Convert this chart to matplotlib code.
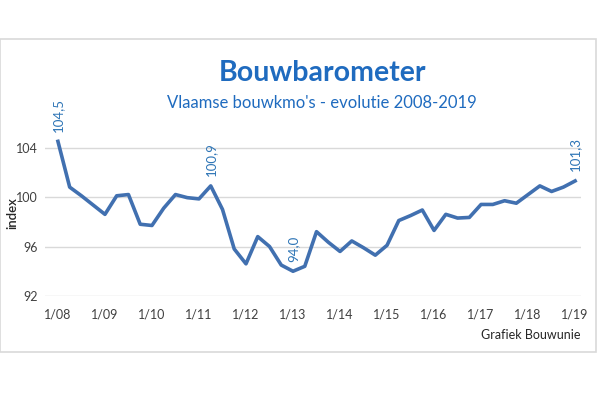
import matplotlib
matplotlib.use("Agg")
import matplotlib.pyplot as plt
from matplotlib.patches import Rectangle

# Quarterly index values, Q1 2008 .. Q1 2019
values = [104.5, 100.8, 100.1, 99.35, 98.6, 100.1, 100.2, 97.8, 97.7, 99.1,
          100.2, 99.95, 99.85, 100.9, 99.0, 95.8, 94.6, 96.8, 96.0, 94.5,
          94.0, 94.4, 97.2, 96.35, 95.6, 96.45, 95.9, 95.3, 96.1, 98.1,
          98.5, 98.95, 97.3, 98.6, 98.3, 98.35, 99.4, 99.4, 99.7, 99.5,
          100.2, 100.9, 100.45, 100.8, 101.3]
tick_labels = ["1/08", "1/09", "1/10", "1/11", "1/12", "1/13", "1/14",
               "1/15", "1/16", "1/17", "1/18", "1/19"]
y_ticks = [92, 96, 100, 104]
labelled_idx = [0, 13, 20, 44]
label_texts = ["104,5", "100,9", "94,0", "101,3"]

plt.rcParams['font.family'] = ['Lato', 'DejaVu Sans']

fig = plt.figure(figsize=(6, 4), dpi=100)
fig.patches.append(Rectangle((0.0, 0.12), 0.9933, 0.7825, transform=fig.transFigure,
                             fill=False, edgecolor='#d9d9d9', linewidth=1.2))

ax = fig.add_axes([0.075, 0.26, 0.8933, 0.433])
x = list(range(len(values)))
ax.plot(x, values, color='#4170B0', linewidth=2.6, solid_joinstyle='round', zorder=3)

ax.set_xlim(-1.1, 44.5)
ax.set_ylim(92, 106)
ax.set_yticks(y_ticks)
ax.set_yticklabels([str(v) for v in y_ticks])
ax.set_xticks(range(0, 45, 4))
ax.set_xticklabels(tick_labels)
ax.tick_params(length=0, labelsize=9, colors='#404040', pad=5)
ax.tick_params(axis='x', pad=9)
ax.grid(axis='y', color='#d9d9d9', linewidth=1)
ax.set_axisbelow(True)
for s in ['top', 'right', 'left', 'bottom']:
    ax.spines[s].set_visible(False)

fig.text(0.02, 0.4675, 'index', rotation=90, ha='center', va='center',
         fontsize=9.5, color='#262626', fontweight='semibold')

for i, t in zip(labelled_idx, label_texts):
    ax.annotate(t, (i, values[i]), xytext=(0, 7), textcoords='offset points',
                rotation=90, ha='center', va='bottom', fontsize=9.5, color='#2E75B6')

fig.text(0.537, 0.8175, 'Bouwbarometer', ha='center', va='center', fontsize=20.5,
         fontweight='bold', color='#1F6BBF')
fig.text(0.537, 0.7425, "Vlaamse bouwkmo's - evolutie 2008-2019", ha='center', va='center',
         fontsize=12, color='#1F6BBF')
fig.text(0.967, 0.1625, 'Grafiek Bouwunie', ha='right', va='center', fontsize=9,
         color='#262626')

fig.savefig('out.png', dpi=100, facecolor='white')
